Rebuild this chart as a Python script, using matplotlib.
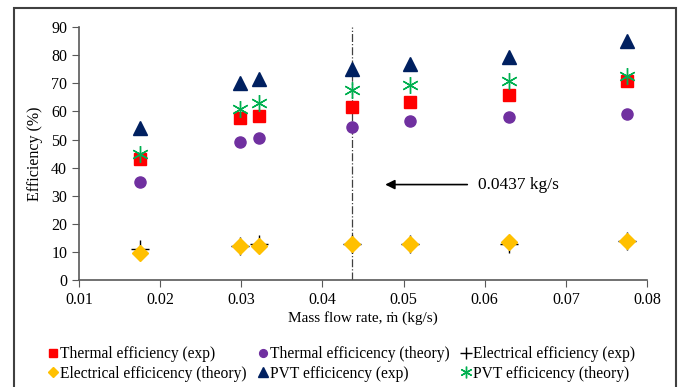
import numpy as np
import matplotlib.pyplot as plt
from matplotlib.patches import Rectangle

plt.rcParams['font.family'] = ['Liberation Serif', 'DejaVu Serif']

mass_flow = [0.0175, 0.0298, 0.0322, 0.0437, 0.0508, 0.0630, 0.0776]
thermal_exp = [43.0, 57.5, 58.5, 61.5, 63.5, 66.0, 71.0]
thermal_theory = [35.0, 49.0, 50.5, 54.5, 56.5, 58.0, 59.0]
elec_exp = [11.0, 12.0, 13.0, 13.0, 13.0, 13.0, 14.0]
elec_theory = [9.5, 12.0, 12.0, 13.0, 13.0, 13.5, 14.0]
pvt_exp = [54.0, 70.0, 71.5, 75.0, 77.0, 79.5, 85.0]
pvt_theory = [45.0, 61.0, 63.0, 67.5, 69.5, 71.0, 72.5]
optimum = 0.0437

fig = plt.figure(figsize=(6.81, 3.87), dpi=100)
ax = fig.add_axes([0.116, 0.276, 0.834, 0.654])

# outer frame around the whole figure
fig.patches.append(Rectangle((0.02, -0.05), 0.973, 1.03, transform=fig.transFigure,
                             fill=False, edgecolor='#404040', linewidth=1.5))

te, = ax.plot(mass_flow, thermal_exp, 's', color='#ff0000', ms=8, ls='none',
              label='Thermal efficiency (exp)')
tt, = ax.plot(mass_flow, thermal_theory, 'o', color='#7030a0', ms=8, ls='none',
              label='Thermal efficicency (theory)')
ee, = ax.plot(mass_flow, elec_exp, '+', color='black', ms=13, mew=1.0, ls='none',
              label='Electrical efficiency (exp)')
et, = ax.plot(mass_flow, elec_theory, 'D', color='#ffc000', ms=8, ls='none',
              label='Electrical efficicency (theory)')
pe, = ax.plot(mass_flow, pvt_exp, '^', color='#002060', ms=10, ls='none',
              label='PVT efficicency (exp)')
pt, = ax.plot(mass_flow, pvt_theory, marker=(6, 2, 0), color='#00b050', ms=12, mew=1.0,
              ls='none', label='PVT efficicency (theory)')

ax.axvline(optimum, color='#404040', ls='-.', lw=0.9, zorder=0)
ax.annotate('', xy=(0.0474, 34), xytext=(0.0582, 34),
            arrowprops=dict(arrowstyle='-|>', color='black', lw=1.2, mutation_scale=14))
ax.text(0.0592, 34, '0.0437 kg/s', fontsize=12.5, va='center', ha='left')

ax.set_xlim(0.01, 0.08)
ax.set_ylim(0, 90)
ax.set_xticks(np.arange(0.01, 0.081, 0.01))
ax.set_xticklabels(['0.01', '0.02', '0.03', '0.04', '0.05', '0.06', '0.07', '0.08'])
ax.set_yticks(np.arange(0, 91, 10))
for s in ['top', 'right']:
    ax.spines[s].set_visible(False)
for s in ['left', 'bottom']:
    ax.spines[s].set_color('#595959')
    ax.spines[s].set_linewidth(1.2)
ax.tick_params(direction='out', length=5, color='#595959', labelsize=11.5)
ax.set_xlabel('Mass flow rate, ṁ (kg/s)', fontsize=11, labelpad=2)
ax.set_ylabel('Efficiency (%)', fontsize=11.5, labelpad=6)

# row-major order as in the original legend
handles = [te, et, tt, pe, ee, pt]
ax.legend(handles, [h.get_label() for h in handles],
          loc='upper left', bbox_to_anchor=(0.07, 0.105), bbox_transform=fig.transFigure,
          ncol=3, frameon=False, fontsize=11.2, markerscale=0.7,
          handlelength=0.7, handletextpad=0.1, columnspacing=0.7,
          labelspacing=0.22, borderaxespad=0, borderpad=0)

fig.savefig('out.png', dpi=100)
